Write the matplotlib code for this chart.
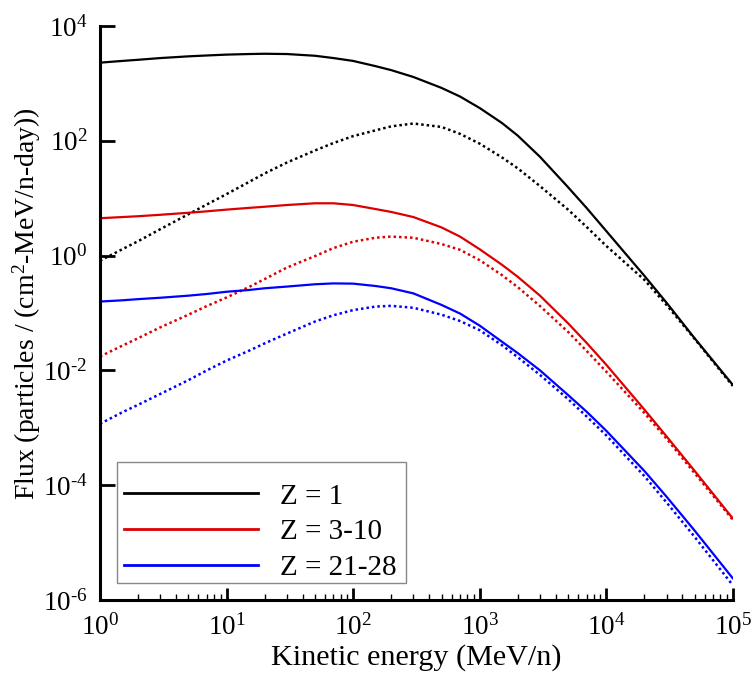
import math
import matplotlib
matplotlib.use("Agg")
import matplotlib.pyplot as plt
from matplotlib.ticker import FixedLocator, FuncFormatter, NullLocator, LogLocator
from matplotlib.patches import Rectangle

plt.rcParams['font.family'] = ['Liberation Serif', 'DejaVu Serif']
plt.rcParams['mathtext.fontset'] = 'custom'
plt.rcParams['mathtext.rm'] = 'Liberation Serif'
plt.rcParams['mathtext.it'] = 'Liberation Serif:italic'
plt.rcParams['mathtext.bf'] = 'Liberation Serif:bold'

# ---- data ----
energy = [1, 1.5, 2, 3, 5, 7, 10, 15, 20, 30, 50, 70, 100, 150, 200, 300, 500, 700,
          1000, 1500, 2000, 3000, 5000, 7000, 1e4, 2e4, 3e4, 5e4, 1e5]

z1_solid = [2290, 2455, 2570, 2754, 2951, 3055, 3162, 3236, 3273, 3236, 3020, 2754,
            2455, 1995, 1698, 1288, 832, 589, 372, 204, 123, 52.5, 15.5, 6.76, 2.69,
            0.447, 0.151, 0.0363, 0.00562]
z1_dotted = [0.813, 1.288, 1.778, 2.884, 5.25, 7.76, 11.75, 19.05, 26.9, 41.7, 67.6, 91.2,
             120.2, 151.4, 177.8, 199.5, 173.8, 131.8, 89.1, 51.3, 33.1, 16.2, 6.31, 3.16,
             1.479, 0.380, 0.138, 0.0355, 0.00537]

z3_solid = [4.47, 4.68, 4.84, 5.13, 5.56, 5.89, 6.31, 6.76, 7.08, 7.59, 8.13, 8.13,
            7.59, 6.46, 5.75, 4.68, 3.09, 2.14, 1.29, 0.692, 0.427, 0.200, 0.0661, 0.0302,
            0.0126, 0.00209, 0.000708, 0.000178, 2.65e-5]
z3_dotted = [0.0174, 0.0269, 0.0363, 0.0562, 0.0933, 0.132, 0.186, 0.282, 0.389, 0.617,
             0.977, 1.349, 1.738, 2.04, 2.14, 2.04, 1.585, 1.259, 0.832, 0.457, 0.282, 0.132,
             0.0468, 0.0219, 0.00955, 0.00182, 0.000646, 0.000162, 2.51e-5]

z21_solid = [0.158, 0.166, 0.174, 0.184, 0.200, 0.214, 0.234, 0.251, 0.269, 0.288, 0.316,
             0.327, 0.324, 0.295, 0.269, 0.219, 0.138, 0.0977, 0.0603, 0.0316, 0.0200,
             0.0100, 0.00372, 0.00191, 0.000891, 0.000178, 6.31e-5, 1.62e-5, 2.40e-6]
z21_dotted = [0.00117, 0.00186, 0.00251, 0.00389, 0.00676, 0.0100, 0.0148, 0.0219, 0.0295,
              0.0437, 0.0708, 0.0912, 0.112, 0.129, 0.133, 0.123, 0.0933, 0.0724, 0.0501,
              0.0275, 0.0170, 0.00832, 0.00316, 0.00158, 0.000741, 0.000145, 5.01e-5,
              1.26e-5, 1.82e-6]

series_labels = ['Z = 1', 'Z = 3-10', 'Z = 21-28']
series_colors = ['#000000', '#dd0000', '#0000ff']
solid_values = [z1_solid, z3_solid, z21_solid]
dotted_values = [z1_dotted, z3_dotted, z21_dotted]

x_ticks = [1e0, 1e1, 1e2, 1e3, 1e4, 1e5]
y_ticks = [1e-6, 1e-4, 1e-2, 1e0, 1e2, 1e4]

# ---- figure ----
fig = plt.figure(figsize=(7.53, 6.73), dpi=100)
ax = fig.add_axes([0.1328, 0.1085, 0.8402, 0.8530])

handles = []
for lab, col, sv, dv in zip(series_labels, series_colors, solid_values, dotted_values):
    h, = ax.plot(energy, sv, color=col, lw=1.6, solid_joinstyle='round')
    ax.plot(energy, dv, color=col, lw=1.8, linestyle=(0, (1.0, 1.2)))
    handles.append(h)

ax.set_xscale('log')
ax.set_yscale('log')
ax.set_xlim(1, 1e5)
ax.set_ylim(1e-6, 1e4)

for s in ['top', 'right']:
    ax.spines[s].set_visible(False)
for s in ['left', 'bottom']:
    ax.spines[s].set_linewidth(2.2)


def pow_label(v, p):
    e = int(round(math.log10(v)))
    if e < 0:
        return r'$10^{\text{-}%d}$' % (-e)
    return r'$10^{%d}$' % e


fmt = FuncFormatter(pow_label)
ax.xaxis.set_major_locator(FixedLocator(x_ticks))
ax.xaxis.set_major_formatter(fmt)
ax.xaxis.set_minor_locator(LogLocator(base=10, subs=range(2, 10), numticks=50))
ax.yaxis.set_major_locator(FixedLocator(y_ticks))
ax.yaxis.set_major_formatter(fmt)
ax.yaxis.set_minor_locator(NullLocator())

ax.tick_params(axis='x', which='major', direction='in', length=9, width=2, labelsize=19.5, pad=10)
ax.tick_params(axis='x', which='minor', direction='in', length=4.5, width=1)
ax.tick_params(axis='y', which='major', direction='in', length=11, width=2, labelsize=19.5, pad=9)

ax.set_xlabel('Kinetic energy (MeV/n)', fontsize=21.7, labelpad=3)
ax.set_ylabel('Flux (particles / (cm$^2$-MeV/n-day))', fontsize=20)
ax.yaxis.set_label_coords(-0.090, 0.516)

# legend frame (drawn as a box) and entries
ax.add_patch(Rectangle((0.0269, 0.0296), 0.4567, 0.2108, transform=ax.transAxes,
                       facecolor='white', edgecolor='#888888', lw=1.0, zorder=4))
leg = ax.legend(handles, series_labels, loc='upper left', bbox_to_anchor=(0.0377, 0.2033),
                fontsize=21, frameon=False, handlelength=4.6, handletextpad=0.75,
                labelspacing=0.32, borderpad=0.0, borderaxespad=0.0)
leg.set_zorder(5)
for ln in leg.get_lines():
    ln.set_linewidth(2.0)

fig.savefig('out.png', dpi=100)
